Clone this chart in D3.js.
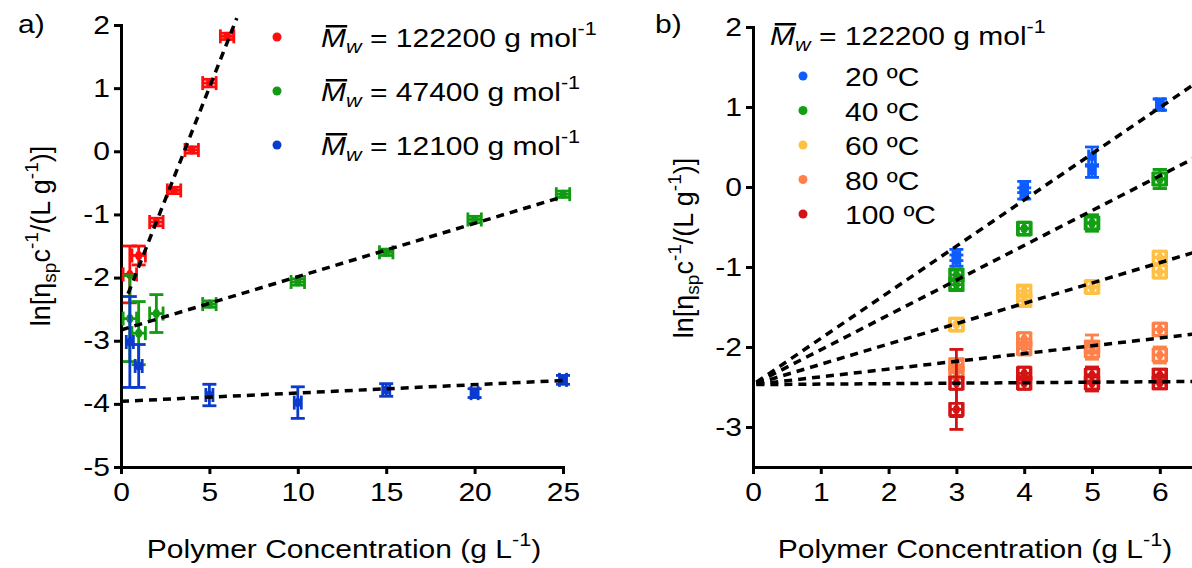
<!DOCTYPE html>
<html>
<head>
<meta charset="utf-8">
<script src="https://cdn.jsdelivr.net/npm/d3@7"></script>
<style>
  body { margin: 0; background: #fff; }
  svg { display: block; font-family: "Liberation Sans", Arial, sans-serif; }
  .axis path, .axis line { stroke: #000; stroke-width: 3px; }
  .axis text { font-size: 25px; fill: #000; font-family: "Liberation Sans", Arial, sans-serif;
    transform-box: fill-box; transform: scaleX(1.2); transform-origin: center; }
  .axis.yax text { transform-origin: right center; }
</style>
</head>
<body>
<div id="chart"></div>
<script>
// ---- panel a : three molar masses ----
var redConc = [0.5, 1, 2, 3, 4, 5, 6];
var redLn = [-1.95, -1.65, -1.12, -0.62, 0.02, 1.08, 1.82];
var redErr = [0.45, 0.15, 0.06, 0.05, 0.05, 0.06, 0.05];

var greenConc = [0.5, 1, 2, 5, 10, 15, 20, 25];
var greenLn = [-2.65, -2.88, -2.57, -2.42, -2.07, -1.6, -1.08, -0.68];
var greenErr = [0.68, 0.5, 0.3, 0.05, 0.05, 0.05, 0.05, 0.05];

var blueConc = [0.5, 1, 5, 10, 15, 20, 25];
var blueLn = [-3.02, -3.4, -3.86, -3.98, -3.78, -3.83, -3.62];
var blueErr = [0.72, 0.34, 0.17, 0.25, 0.1, 0.07, 0.07];

var labelsA = ["122200", "47400", "12100"];
var fitSlopeA = [0.71, 0.0844, 0.0132];
var fitInterceptA = [-2.54, -2.83, -3.96];
var fitRangeA = [[0.4, 6.55], [0, 25], [0, 25]];

// ---- panel b : temperatures, Mw 122200 ----
var tempLabels = ["20 ºC", "40 ºC", "60 ºC", "80 ºC", "100 ºC"];
var tempConc = [3, 4, 5, 6];
var rep1 = [
  [-0.85, 0.0, 0.38, 1.03],
  [-1.1, -0.52, -0.45, 0.1],
  [-1.72, -1.3, -1.25, -0.88],
  [-2.22, -1.9, -2.0, -1.78],
  [-2.45, -2.33, -2.35, -2.35]
];
var rep2 = [
  [-0.92, -0.08, 0.2, 1.03],
  [-1.22, -0.52, -0.45, 0.1],
  [-1.72, -1.42, -1.25, -1.06],
  [-2.32, -2.02, -2.05, -2.1],
  [-2.78, -2.45, -2.45, -2.45]
];
var err1 = [
  [0.07, 0.07, 0.12, 0.07],
  [0.06, 0.08, 0.1, 0.12],
  [0.08, 0.06, 0.08, 0.08],
  [0.05, 0.08, 0.15, 0.08],
  [0.42, 0.08, 0.1, 0.07]
];
var err2 = [
  [0.07, 0.07, 0.08, 0.07],
  [0.06, 0.08, 0.1, 0.12],
  [0.08, 0.06, 0.08, 0.08],
  [0.05, 0.08, 0.1, 0.1],
  [0.25, 0.08, 0.1, 0.07]
];
var fitSlopeB = [0.577, 0.435, 0.254, 0.097, 0.006];
var fitInterceptB = -2.47;

// estilos
var coloresA = ["#ff0d0d", "#129a12", "#0b3bcc"];
var coloresB = ["#0d5cff", "#12a012", "#ffc043", "#ff8048", "#d41414"];
var marcadorB = ["none", "square", "square", "square", "square"];
var xErrB = [0.05, 0.1, 0.1, 0.1, 0.1];
var estirar = 1.2;   // el texto original sale ensanchado

var width = 1192, height = 568;
var svg = d3.select("#chart").append("svg")
  .attr("width", width)
  .attr("height", height);

/* Scales */
var xA = d3.scaleLinear().domain([0, 25]).range([121, 563]);
var yA = d3.scaleLinear().domain([-5, 2]).range([467, 25]);
var xB = d3.scaleLinear().domain([0, 7]).range([753, 753 + 7 * 67.8]);
var yB = d3.scaleLinear().domain([-3.5, 2]).range([467, 27]);

/* Axes */
function ejes(x, y, xticks, yticks) {
  svg.append("g").attr("class", "axis")
    .attr("transform", `translate(0, ${y.range()[0]})`)
    .call(d3.axisBottom(x).tickValues(xticks).tickFormat(d => String(d))
      .tickSize(7).tickSizeOuter(0).tickPadding(9));
  svg.append("g").attr("class", "axis yax")
    .attr("transform", `translate(${x.range()[0]}, 0)`)
    .call(d3.axisLeft(y).tickValues(yticks).tickFormat(d => String(d))
      .tickSize(7).tickSizeOuter(0).tickPadding(4));
}
ejes(xA, yA, d3.range(0, 26, 5), d3.range(-5, 3, 1));
ejes(xB, yB, d3.range(0, 7, 1), d3.range(-3, 3, 1));
svg.selectAll(".axis .domain").attr("stroke-linecap", "square");

/* error-bar marker */
function marca(g, x, y, cx, cy, ye, xe, color, tipo) {
  var px = x(cx), py = y(cy);
  var y0 = y(cy - ye), y1 = y(cy + ye);
  var x0 = x(cx - xe), x1 = x(cx + xe);
  var cap = 7;
  var m = g.append("g").attr("stroke", color).attr("stroke-width", 2.8).attr("fill", "none");
  m.append("line").attr("x1", px).attr("x2", px).attr("y1", y0).attr("y2", y1);
  m.append("line").attr("x1", px - cap).attr("x2", px + cap).attr("y1", y0).attr("y2", y0);
  m.append("line").attr("x1", px - cap).attr("x2", px + cap).attr("y1", y1).attr("y2", y1);
  m.append("line").attr("x1", x0).attr("x2", x1).attr("y1", py).attr("y2", py);
  m.append("line").attr("x1", x0).attr("x2", x0).attr("y1", py - cap).attr("y2", py + cap);
  m.append("line").attr("x1", x1).attr("x2", x1).attr("y1", py - cap).attr("y2", py + cap);
  if (tipo === "square") {
    m.append("rect").attr("x", px - 6).attr("y", py - 6).attr("width", 12).attr("height", 12);
  }
  g.append("ellipse").attr("cx", px).attr("cy", py).attr("rx", 3.5).attr("ry", 4.5).attr("fill", color);
}

/* panel a marks */
var seriesA = [
  { conc: redConc, ln: redLn, err: redErr, xe: 0.38 },
  { conc: greenConc, ln: greenLn, err: greenErr, xe: 0.38 },
  { conc: blueConc, ln: blueLn, err: blueErr, xe: 0.2 }
];
var marksA = svg.append("g");
seriesA.forEach(function (s, i) {
  s.conc.forEach(function (c, j) {
    marca(marksA, xA, yA, c, s.ln[j], s.err[j], s.xe, coloresA[i], "none");
  });
});

/* panel b marks */
var marksB = svg.append("g");
tempLabels.forEach(function (t, i) {
  tempConc.forEach(function (c, j) {
    marca(marksB, xB, yB, c, rep1[i][j], err1[i][j], xErrB[i], coloresB[i], marcadorB[i]);
    marca(marksB, xB, yB, c, rep2[i][j], err2[i][j], xErrB[i], coloresB[i], marcadorB[i]);
  });
});

/* fit lines */
var line = function (x, y) {
  return d3.line().x(d => x(d[0])).y(d => y(d[1]));
};
fitSlopeA.forEach(function (m, i) {
  var r = fitRangeA[i];
  svg.append("path")
    .attr("d", line(xA, yA)(r.map(c => [c, fitInterceptA[i] + m * c])))
    .attr("stroke", "#000").attr("stroke-width", 3.5)
    .attr("stroke-dasharray", "8,6").attr("fill", "none");
});
fitSlopeB.forEach(function (m) {
  svg.append("path")
    .attr("d", line(xB, yB)([0.05, 7].map(c => [c, fitInterceptB + m * c])))
    .attr("stroke", "#000").attr("stroke-width", 3.5)
    .attr("stroke-dasharray", "8,6").attr("fill", "none");
});

/* texto ensanchado: grupo con escala horizontal */
function texto(x, y, anchor) {
  return svg.append("g")
    .attr("transform", `translate(${x}, ${y}) scale(${estirar}, 1)`)
    .append("text").attr("text-anchor", anchor || "start")
    .style("font-size", "25px").attr("fill", "#000");
}

/* Mw label with overbar */
function etiquetaMw(x, y, valor) {
  var t = texto(x, y);
  t.append("tspan").style("font-style", "italic").text("M");
  t.append("tspan").style("font-style", "italic").style("font-size", "18px")
    .attr("dy", 6).text("w");
  t.append("tspan").attr("dy", -6).text(" = " + valor + " g mol");
  t.append("tspan").style("font-size", "18px").attr("dy", -12).text("-1");
  var b = t.node().getExtentOfChar(0);
  d3.select(t.node().parentNode).append("rect")
    .attr("x", b.x + 4).attr("y", -22)
    .attr("width", b.width - 3).attr("height", 2.5).attr("fill", "#000");
}

/* legend a */
labelsA.forEach(function (l, i) {
  var yy = 37 + i * 54;
  svg.append("circle").attr("cx", 277).attr("cy", yy).attr("r", 4.5).attr("fill", coloresA[i]);
  etiquetaMw(321, yy + 10, l);
});

/* legend b */
etiquetaMw(770, 45, "122200");
tempLabels.forEach(function (l, i) {
  var yy = 76 + i * 34.5;
  svg.append("circle").attr("cx", 803).attr("cy", yy).attr("r", 4.5).attr("fill", coloresB[i]);
  texto(845, yy + 10).text(l);
});

/* axis titles */
function tituloX(cx) {
  var t = texto(cx, 558, "middle");
  t.append("tspan").text("Polymer Concentration (g L");
  t.append("tspan").style("font-size", "18px").attr("dy", -12).text("-1");
  t.append("tspan").attr("dy", 12).text(")");
}
tituloX(344);
tituloX(975);

function tituloY(cx, cy) {
  var t = svg.append("text")
    .attr("transform", `translate(${cx}, ${cy}) rotate(-90)`)
    .attr("text-anchor", "middle").style("font-size", "27px");
  t.append("tspan").text("ln[η");
  t.append("tspan").style("font-size", "19px").attr("dy", 6).text("sp");
  t.append("tspan").attr("dy", -6).text("c");
  t.append("tspan").style("font-size", "19px").attr("dy", -12).text("-1");
  t.append("tspan").attr("dy", 12).text("/(L g");
  t.append("tspan").style("font-size", "19px").attr("dy", -12).text("-1");
  t.append("tspan").attr("dy", 12).text(")]");
}
tituloY(50, 236);
tituloY(693, 248);

/* panel letters */
texto(18, 33).text("a)");
texto(655, 33).text("b)");
</script>
</body>
</html>
